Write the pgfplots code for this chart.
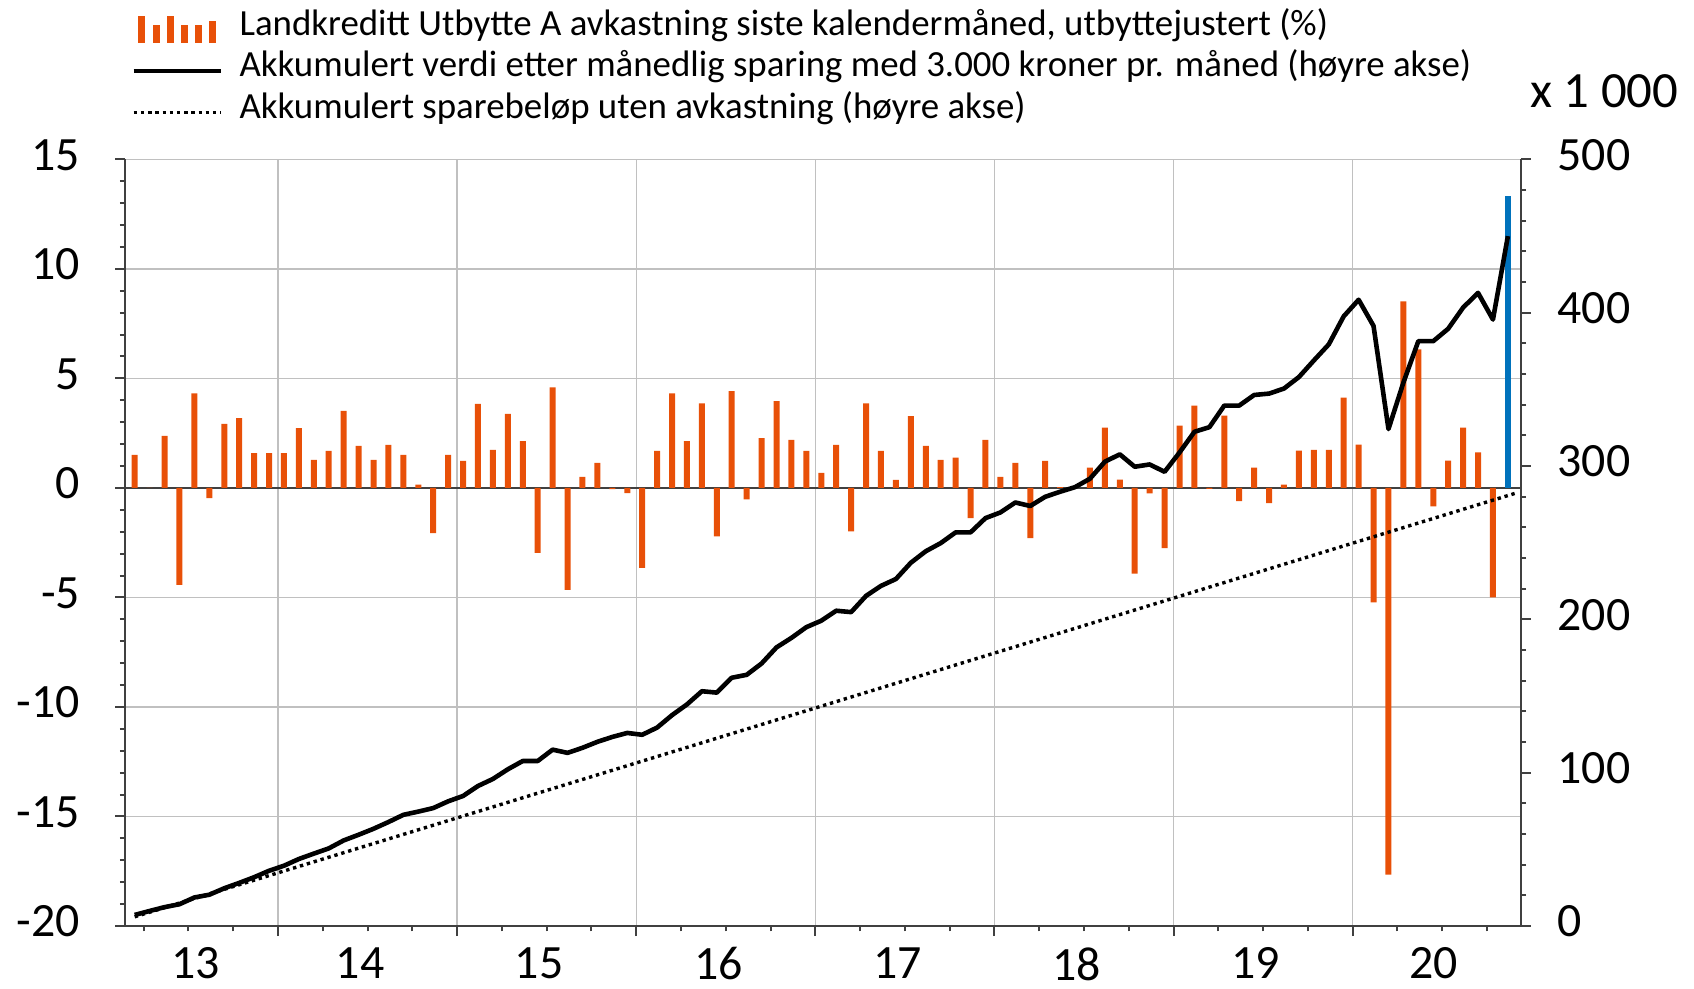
\documentclass[border=0pt]{standalone}
\usepackage{fontspec}
\setmainfont{Carlito}
\usepackage{pgfplots}
\pgfplotsset{compat=1.18}
\definecolor{barorange}{RGB}{232,80,8}
\definecolor{barblue}{RGB}{0,114,188}
\definecolor{axisgray}{RGB}{64,64,64}
\definecolor{gridgray}{RGB}{192,192,192}

\pgfplotsset{
  common/.style={
    at={(62.65bp,31.5bp)}, anchor=south west,
    scale only axis, width=697.7bp, height=383.35bp,
    xmin=-0.63, xmax=92.86,
    axis line style={axisgray, line width=1bp},
    tick style={axisgray, line width=1bp},
    tick align=outside,
    major tick length=5bp, minor tick length=2.7bp,
    /pgf/number format/assume math mode=true,
    ticklabel style={font=\fontsize{24}{28}\selectfont},
  },
  lineimg/.style={legend image code/.code={\draw[##1] (0bp,-1.35bp) -- (43.85bp,-1.35bp);}},
}

\begin{document}
\begin{tikzpicture}
\useasboundingbox (0,0) rectangle (847bp,494.5bp);
% left axis: monthly return (%)
\begin{axis}[common,
  ymin=-20, ymax=15,
  axis x line*=bottom, axis y line*=left,
  xtick={9.6,21.6,33.6,45.6,57.6,69.6,81.6},
  xticklabels={},
  minor xtick={0.6,3.6,6.6,12.6,15.6,18.6,24.6,27.6,30.6,36.6,39.6,42.6,48.6,51.6,54.6,60.6,63.6,66.6,72.6,75.6,78.6,84.6,87.6,90.6},
  extra x ticks={4.1,15.1,27.1,39.1,51.1,63.1,75.1,87.0},
  extra x tick labels={13,14,15,16,17,18,19,20},
  extra x tick style={major tick length=0pt, grid=none},
  xticklabel style={anchor=north, inner sep=0pt, yshift=-10.5bp},
  ytick={-20,-15,...,15},
  minor y tick num=4,
  yticklabel style={anchor=east, inner sep=0pt, xshift=-17.5bp, yshift=2.2bp},
  extra y ticks={0}, extra y tick labels={},
  extra y tick style={major tick length=0pt, major grid style={axisgray, line width=0.9bp}},
  xmajorgrids, ymajorgrids,
  major grid style={gridgray, line width=0.7bp},
]
\addplot[ybar, bar width=3bp, bar shift=0pt, fill=barorange, draw=none] coordinates {
  (0,1.51) (1,0) (2,2.37) (3,-4.43) (4,4.32) (5,-0.47) (6,2.92) (7,3.18) (8,1.59) (9,1.59)
  (10,1.59) (11,2.73) (12,1.28) (13,1.69) (14,3.51) (15,1.92) (16,1.28) (17,1.96) (18,1.51) (19,0.15)
  (20,-2.06) (21,1.51) (22,1.23) (23,3.83) (24,1.74) (25,3.38) (26,2.14) (27,-2.97) (28,4.59) (29,-4.66)
  (30,0.50) (31,1.14) (32,-0.06) (33,-0.24) (34,-3.65) (35,1.69) (36,4.32) (37,2.14) (38,3.86) (39,-2.21)
  (40,4.42) (41,-0.52) (42,2.27) (43,3.96) (44,2.19) (45,1.69) (46,0.68) (47,1.96) (48,-1.98) (49,3.86)
  (50,1.69) (51,0.37) (52,3.28) (53,1.92) (54,1.28) (55,1.38) (56,-1.38) (57,2.19) (58,0.50) (59,1.14)
  (60,-2.29) (61,1.23) (62,0.03) (63,0) (64,0.92) (65,2.75) (66,0.38) (67,-3.91) (68,-0.25) (69,-2.75)
  (70,2.84) (71,3.76) (72,-0.05) (73,3.30) (74,-0.61) (75,0.92) (76,-0.69) (77,0.15) (78,1.70) (79,1.74)
  (80,1.74) (81,4.12) (82,1.97) (83,-5.23) (84,-17.65) (85,8.51) (86,6.32) (87,-0.84) (88,1.24) (89,2.75)
  (90,1.62) (91,-5.00)
};
\addplot[ybar, bar width=3bp, bar shift=0pt, fill=barblue, draw=none] coordinates {(92,13.32)};
\end{axis}
% right axis: accumulated value (x 1000 kr)
\begin{axis}[common,
  ymin=0, ymax=500,
  axis x line=none, axis y line*=right,
  ytick={0,100,...,500},
  minor y tick num=4,
  yticklabel style={anchor=west, inner sep=0pt, xshift=13.3bp, yshift=2.2bp},
  legend style={at={(0.0041,1.1960)}, anchor=north west, draw=none, fill=none,
    inner sep=0pt, column sep=7.9bp, row sep=3.2bp,
    font=\fontsize{18.5}{22}\selectfont,
    nodes={inner sep=0pt, text height=13bp, text depth=4.5bp}},
  legend cell align=left,
  lineimg,
]
\addlegendimage{legend image code/.code={
  \path (0bp,0bp) (43.85bp,0bp);
  \fill[barorange] (2.5bp,-7.75bp) rectangle (5.5bp,5.25bp);
  \fill[barorange] (9.6bp,-7.75bp) rectangle (12.6bp,0.55bp);
  \fill[barorange] (16.7bp,-7.75bp) rectangle (19.7bp,5.25bp);
  \fill[barorange] (23.8bp,-7.75bp) rectangle (26.8bp,0.55bp);
  \fill[barorange] (30.9bp,-7.75bp) rectangle (33.9bp,0.55bp);
  \fill[barorange] (38bp,-7.75bp) rectangle (41bp,2.75bp);
}}
\addlegendentry{Landkreditt Utbytte A avkastning siste kalendermåned, utbyttejustert (\%)}
\addplot[black, line width=2.3bp, line join=round] coordinates {
  (0,7.2) (1,9.8) (2,12.3) (3,14.2) (4,18.6) (5,20.4) (6,24.6) (7,28.1) (8,31.8) (9,36.0)
  (10,39.3) (11,43.7) (12,47.2) (13,50.6) (14,55.8) (15,59.5) (16,63.4) (17,67.8) (18,72.5) (19,74.6)
  (20,76.9) (21,81.3) (22,84.8) (23,91.3) (24,95.9) (25,102.2) (26,107.6) (27,107.6) (28,115.0) (29,112.9)
  (30,116.2) (31,120.1) (32,123.3) (33,125.9) (34,124.7) (35,129.4) (36,137.5) (37,144.5) (38,153.1) (39,152.2)
  (40,161.9) (41,163.8) (42,171.2) (43,181.7) (44,187.9) (45,194.9) (46,199.1) (47,205.6) (48,204.7) (49,215.3)
  (50,221.8) (51,226.3) (52,236.9) (53,244.4) (54,249.7) (55,256.7) (56,256.7) (57,266.0) (58,269.7) (59,276.2)
  (60,273.9) (61,279.9) (62,283.2) (63,286.2) (64,291.7) (65,302.8) (66,307.6) (67,299.5) (68,301.0) (69,296.2)
  (70,308.8) (71,322.3) (72,325.3) (73,339.4) (74,339.4) (75,346.3) (76,347.2) (77,350.5) (78,358.0) (79,368.8)
  (80,379.3) (81,397.6) (82,408.4) (83,391.3) (84,324.1) (85,354.4) (86,381.4) (87,381.4) (88,389.5) (89,403.3)
  (90,412.9) (91,395.5) (92,449.9)
};
\addlegendentry{Akkumulert verdi etter månedlig sparing med 3.000 kroner pr. måned (høyre akse)}
\addplot[black, line width=1.7bp, dash pattern=on 1.7bp off 1.9bp]
  coordinates {(0,6) (92.6,282.5)};
\addlegendentry{Akkumulert sparebeløp uten avkastning (høyre akse)}
\end{axis}
\node[anchor=base west, inner sep=0pt, font=\fontsize{25.5}{30}\selectfont]
  at (765bp,440.5bp) {x 1 000};
\end{tikzpicture}
\end{document}
